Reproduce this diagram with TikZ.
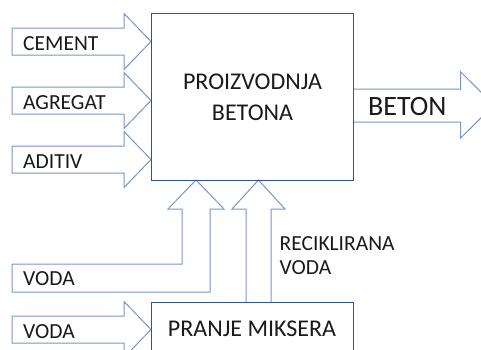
\documentclass[tikz,border=0pt]{standalone}
\usepackage{fontspec}
\setmainfont{Carlito}
\definecolor{boxblue}{HTML}{2F5597}
\definecolor{arrblue}{HTML}{7A95C8}
\definecolor{txt}{HTML}{1A1A1A}
\begin{document}
\begin{tikzpicture}[x=1pt,y=-1pt,
  blk/.style={draw=boxblue,line width=1pt,inner sep=0pt,anchor=north west},
  arr/.style={draw=arrblue,line width=1pt,fill=white,line join=miter},
  lbl/.style={font=\fontsize{21.5}{25}\selectfont,text=txt,inner sep=0pt,anchor=base west},
  big/.style={font=\fontsize{24}{28}\selectfont,text=txt,inner sep=0pt,anchor=base}]
\useasboundingbox (0,0) rectangle (481,349);
\clip (0,0) rectangle (481,349);
% left input arrows
\foreach \c/\t/\n in {41.5/CEMENT/cem,100.5/AGREGAT/agr,159.5/ADITIV/adi,329.5/VODA/vodb}{
  \draw[arr] (12,\c-13.5) -- (124,\c-13.5) -- (124,\c-28) -- (151,\c) -- (124,\c+28) -- (124,\c+13.5) -- (12,\c+13.5) -- cycle;
  \node[lbl] (\n) at (23,\c+9.3) {\t};
}
% water L-arrow
\draw[arr] (12,264) -- (182,264) -- (182,209) -- (168,209) -- (196,180) -- (224,209) -- (210,209) -- (210,292) -- (12,292) -- cycle;
\node[lbl] (voda) at (23,285) {VODA};
% recycled water arrow
\draw[arr,fill=none] (246,302) -- (246,209) -- (232,209) -- (258.5,180) -- (285,209) -- (271,209) -- (271,302);
\node[lbl] (rec) at (279.5,250) {RECIKLIRANA};
\node[lbl] (recv) at (279.5,274.3) {VODA};
% output arrow
\draw[arr] (353,89) -- (460.7,89) -- (460.7,72) -- (494,105) -- (460.7,138) -- (460.7,122) -- (353,122);
\node[lbl,font=\fontsize{28}{32}\selectfont] (beton) at (368,115) {BETON};
% boxes
\node[blk,minimum width=202pt,minimum height=167pt] (prod) at (151,13) {};
\node[big] (p1) at (252.5,89.3) {PROIZVODNJA};
\node[big] (p2) at (252.5,120) {BETONA};
\node[blk,minimum width=202pt,minimum height=70pt] (pranje) at (151,302) {};
\node[big] (pm) at (252,336) {PRANJE MIKSERA};
\end{tikzpicture}
\end{document}
